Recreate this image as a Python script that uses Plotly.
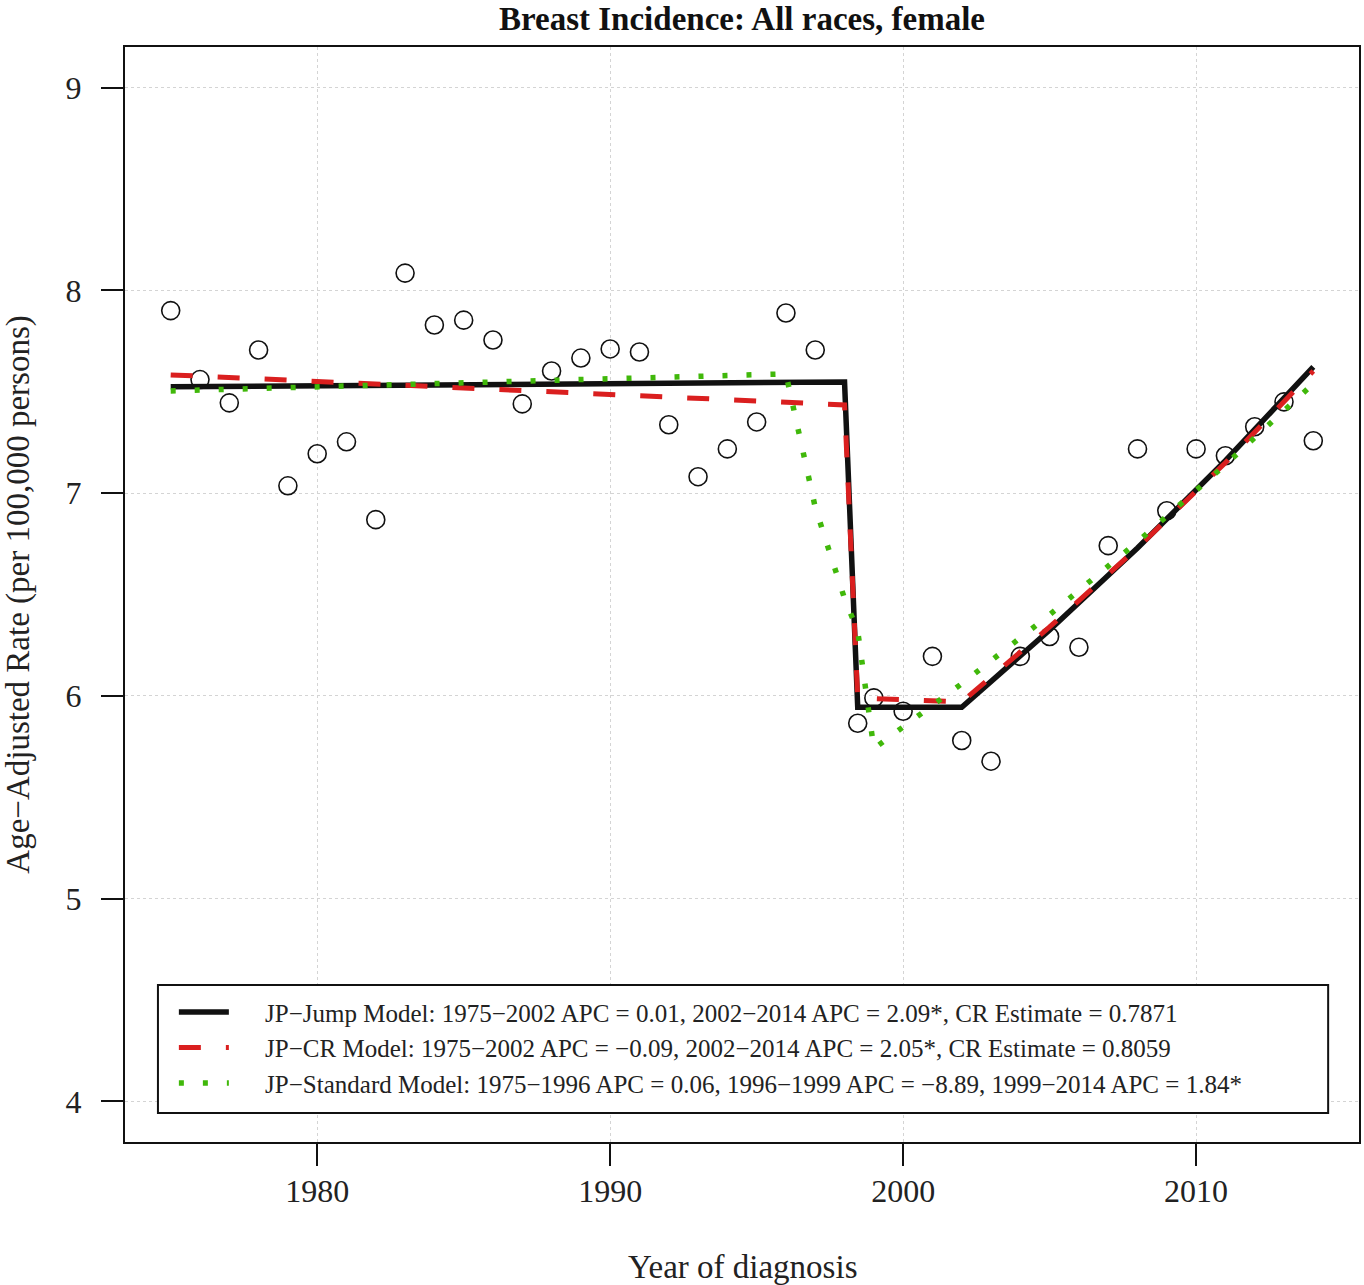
import plotly.graph_objects as go

# Observed rates
years = [1975, 1976, 1977, 1978, 1979, 1980, 1981, 1982, 1983, 1984, 1985, 1986, 1987,
         1988, 1989, 1990, 1991, 1992, 1993, 1994, 1995, 1996, 1997, 1998.45, 1999,
         2000, 2001, 2002, 2003, 2004, 2005, 2006, 2007, 2008, 2009, 2010, 2011, 2012,
         2013, 2014]
rates = [7.90, 7.56, 7.445, 7.706, 7.036, 7.194, 7.253, 6.869, 8.085, 7.829, 7.853, 7.755,
         7.44, 7.602, 7.666, 7.711, 7.696, 7.337, 7.081, 7.218, 7.351, 7.888, 7.706, 5.865,
         5.99, 5.924, 6.195, 5.78, 5.678, 6.195, 6.293, 6.24, 6.741, 7.218, 6.913, 7.218,
         7.184, 7.327, 7.45, 7.258]

# JP-Jump model fit
jump_years = [1975, 1998, 1998.45, 2002, 2005, 2008, 2011, 2014]
jump_vals = [7.524, 7.548, 5.944, 5.944, 6.325, 6.729, 7.16, 7.622]

# JP-CR model fit
cr_years = [1975, 1998, 1998.45, 2002, 2005, 2008, 2011, 2014]
cr_vals = [7.583, 7.435, 5.99, 5.97, 6.34, 6.73, 7.15, 7.602]

# JP-Standard model fit
std_years = [1975, 1996, 1997, 1998, 1998.45, 1999, 2002, 2005, 2008, 2011, 2014]
std_vals = [7.504, 7.588, 6.93, 6.48, 6.32, 5.74, 6.06, 6.40, 6.76, 7.14, 7.54]

legend_names = [
    "JP\u2212Jump Model: 1975\u22122002 APC = 0.01, 2002\u22122014 APC = 2.09*, CR Estimate = 0.7871",
    "JP\u2212CR Model: 1975\u22122002 APC = \u22120.09, 2002\u22122014 APC = 2.05*, CR Estimate = 0.8059",
    "JP\u2212Standard Model: 1975\u22121996 APC = 0.06, 1996\u22121999 APC = \u22128.89, 1999\u22122014 APC = 1.84*",
]

x_ticks = [1980, 1990, 2000, 2010]
y_ticks = [4, 5, 6, 7, 8, 9]

FONT = "Liberation Serif, Times New Roman, serif"
PAD = "\u00a0" * 5

fig = go.Figure()
fig.add_trace(go.Scatter(x=years, y=rates, mode="markers", showlegend=False,
                         marker=dict(symbol="circle-open", size=18, color="#111",
                                     line=dict(width=1.6, color="#111"))))
fig.add_trace(go.Scatter(x=jump_years, y=jump_vals, mode="lines", name=PAD + legend_names[0],
                         legendgroup="a",
                         line=dict(color="#111", width=5.5)))
fig.add_trace(go.Scatter(x=cr_years, y=cr_vals, mode="lines", name=PAD + legend_names[1],
                         legendgroup="b",
                         line=dict(color="#DA1F1F", width=5, dash="22px,25px")))
fig.add_trace(go.Scatter(x=std_years, y=std_vals, mode="lines", name=PAD + legend_names[2],
                         legendgroup="c",
                         line=dict(color="#40B80A", width=5.5, dash="5px,19px")))

axis_common = dict(showline=True, mirror=True, linecolor="#111", linewidth=2,
                   ticks="outside", ticklen=22, tickwidth=2, tickcolor="#111",
                   showgrid=True, gridcolor="#d4d4d4", griddash="dot", gridwidth=1,
                   zeroline=False, tickfont=dict(family=FONT, size=32, color="#222"))

fig.update_layout(
    width=1364, height=1285,
    margin=dict(l=125, r=3, t=47, b=143),
    paper_bgcolor="white", plot_bgcolor="white",
    xaxis=dict(range=[1973.44, 2015.56], tickvals=x_ticks, ticklabelstandoff=-2, **axis_common),
    yaxis=dict(range=[3.8, 9.2], tickvals=y_ticks, ticklabelstandoff=13, **axis_common),
    title=dict(text="<b>Breast Incidence: All races, female</b>", x=0.5, xref="paper",
               y=1 - 18 / 1285, yref="container", yanchor="middle", xanchor="center",
               font=dict(family=FONT, size=33, color="#111")),
    showlegend=True,
    legend=dict(x=0.0396, y=0.1395, xanchor="left", yanchor="top", bgcolor="rgba(0,0,0,0)",
                borderwidth=0, font=dict(family=FONT, size=25, color="#222"),
                tracegroupgap=0, itemwidth=50),
    shapes=[dict(type="rect", xref="paper", yref="paper", x0=0.0267, x1=0.975,
                 y0=0.0265, y1=0.1434, fillcolor="white",
                 line=dict(color="#111", width=2), layer="above")],
    annotations=[
        dict(text="Year of diagnosis", xref="paper", yref="paper", x=0.5, y=-0.114,
             showarrow=False, xanchor="center", yanchor="middle",
             font=dict(family=FONT, size=33, color="#222")),
        dict(text="Age\u2212Adjusted Rate (per 100,000 persons)", xref="paper", yref="paper",
             x=-0.0866, y=0.5, textangle=-90, showarrow=False, xanchor="center",
             yanchor="middle", font=dict(family=FONT, size=33, color="#222")),
    ],
)

fig.write_html("out.html", config={"displayModeBar": False},
               post_script="document.body.style.margin='0';document.body.style.overflow='hidden';")
